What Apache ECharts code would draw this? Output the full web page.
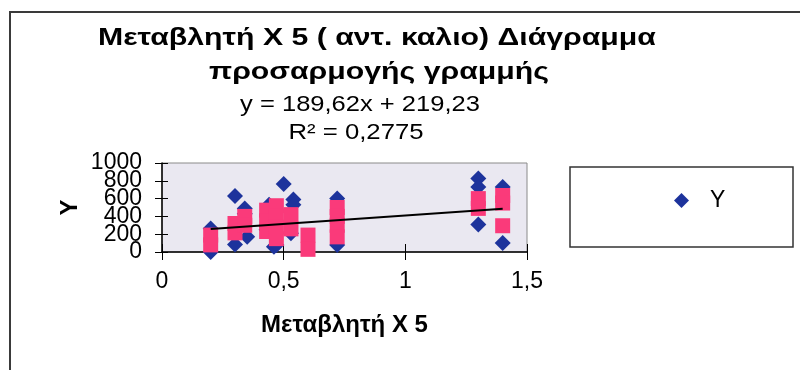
<!DOCTYPE html>
<html>
<head>
<meta charset="utf-8">
<script src="https://cdn.jsdelivr.net/npm/echarts@6/dist/echarts.min.js"></script>
<style>html,body{margin:0;padding:0;background:#fff}#c{width:800px;height:370px}</style>
</head>
<body>
<div id="c"></div>
<script>
var titleLines = ['Μεταβλητή X 5 ( αντ. καλιο) Διάγραμμα', 'προσαρμογής γραμμής'];
var equationText = 'y = 189,62x + 219,23';
var r2Text = 'R² = 0,2775';
var xAxisTitle = 'Μεταβλητή X 5';
var yAxisTitle = 'Y';
var seriesName = 'Y';
var trendSlope = 189.62;
var trendIntercept = 219.23;
var yTickLabels = ['0', '200', '400', '600', '800', '1000'];

var xBlue = [0.2, 0.2, 0.3, 0.3, 0.34, 0.34, 0.35, 0.44, 0.43, 0.46, 0.47, 0.5, 0.54, 0.54, 0.53, 0.72, 0.72, 1.3, 1.3, 1.3, 1.4, 1.4];
var yBlue = [265, 0, 630, 85, 490, 430, 170, 530, 250, 60, 80, 765, 590, 530, 210, 602, 80, 825, 731, 310, 731, 100];

var xPink = [0.2, 0.2, 0.3, 0.3, 0.34, 0.34, 0.43, 0.43, 0.43, 0.47, 0.47, 0.47, 0.47, 0.53, 0.53, 0.6, 0.6, 0.72, 0.72, 0.72, 0.72, 1.3, 1.3, 1.4, 1.4, 1.4];
var yPink = [190, 80, 320, 215, 400, 300, 470, 350, 230, 520, 400, 280, 150, 420, 260, 190, 30, 500, 400, 300, 170, 600, 490, 635, 550, 295];

var FONT = '"Liberation Sans", Arial, sans-serif';
var chart = echarts.init(document.getElementById('c'), null, {renderer: 'canvas'});

function pairs(xs, ys) { return xs.map(function (x, i) { return [x, ys[i]]; }); }
var xMinData = Math.min.apply(null, xBlue);
var xMaxData = Math.max.apply(null, xBlue);
var trendData = [[xMinData, trendSlope * xMinData + trendIntercept], [xMaxData, trendSlope * xMaxData + trendIntercept]];

function commaFmt(v) { return String(v).replace('.', ','); }
function yLabelFmt(parity) {
  return function (v) {
    var idx = Math.round(v / 200);
    return (idx % 2 === parity) ? (yTickLabels[idx] || '') : '';
  };
}

var baseX = {min: 0, max: 1.5, interval: 0.5, splitLine: {show: false}};
var baseY = {min: 0, max: 1000, interval: 200, splitLine: {show: false}};
var yLabelStyle = {fontFamily: FONT, fontSize: 23, color: '#000', margin: 20, showMinLabel: true, showMaxLabel: true, hideOverlap: false};

function stretchedText(str, x, y, font, sx) {
  return {type: 'text', x: x, y: y, scaleX: sx, scaleY: 1,
    style: {text: str, x: 0, y: 0, textAlign: 'center', textVerticalAlign: 'middle', font: font, fill: '#000'}};
}

chart.setOption({
  animation: false,
  backgroundColor: '#ffffff',
  grid: {left: 162, right: 273, top: 163, bottom: 118, show: true, backgroundColor: '#eae8f1', borderColor: '#8a8a8a', borderWidth: 1},
  graphic: [
    {type: 'rect', shape: {x: 10, y: 12, width: 800, height: 370}, style: {fill: 'none', stroke: '#3a3a3a', lineWidth: 2}, silent: true},
    {type: 'rect', shape: {x: 570, y: 167, width: 223, height: 80}, style: {fill: '#ffffff', stroke: '#333333', lineWidth: 1.5}, silent: true, z: -1},
    stretchedText(titleLines[0], 377, 38, 'bold 24px ' + FONT, 1.26),
    stretchedText(titleLines[1], 379, 72, 'bold 24px ' + FONT, 1.26),
    stretchedText(equationText, 360, 105, '22px ' + FONT, 1.16),
    stretchedText(r2Text, 356, 133, '22px ' + FONT, 1.17)
  ],
  legend: {
    data: [seriesName], left: 669, top: 184, itemWidth: 15, itemHeight: 15, icon: 'diamond',
    textStyle: {fontFamily: FONT, fontSize: 23, color: '#000', padding: [0, 0, 0, 16]}
  },
  xAxis: [
    Object.assign({type: 'value', position: 'bottom',
      name: xAxisTitle, nameLocation: 'middle', nameGap: 61,
      nameTextStyle: {fontFamily: FONT, fontSize: 24, fontWeight: 'bold', color: '#000'},
      axisLine: {show: true, onZero: false, lineStyle: {color: '#000', width: 1.5}},
      axisTick: {show: true, length: 8, lineStyle: {color: '#000'}},
      axisLabel: {fontFamily: FONT, fontSize: 23, color: '#000', margin: 18, formatter: commaFmt, showMinLabel: true, showMaxLabel: true}
    }, baseX),
    Object.assign({type: 'value', position: 'bottom',
      axisLine: {show: false}, axisTick: {show: true, inside: true, length: 8, lineStyle: {color: '#000'}},
      axisLabel: {show: false}
    }, baseX)
  ],
  yAxis: [
    Object.assign({type: 'value', position: 'left',
      name: yAxisTitle, nameLocation: 'middle', nameGap: 80, nameRotate: 90,
      nameTextStyle: {fontFamily: FONT, fontSize: 24, fontWeight: 'bold', color: '#000'},
      axisLine: {show: true, onZero: false, lineStyle: {color: '#000', width: 1.5}},
      axisTick: {show: true, length: 7, lineStyle: {color: '#000'}},
      axisLabel: Object.assign({formatter: yLabelFmt(0)}, yLabelStyle)
    }, baseY),
    Object.assign({type: 'value', position: 'left',
      axisLine: {show: false}, axisTick: {show: true, inside: true, length: 6, lineStyle: {color: '#000'}},
      axisLabel: Object.assign({formatter: yLabelFmt(1)}, yLabelStyle)
    }, baseY)
  ],
  series: [
    {name: seriesName, type: 'scatter', symbol: 'diamond', symbolSize: 16, data: pairs(xBlue, yBlue),
     itemStyle: {color: '#1d339c', opacity: 1}, z: 2, clip: false},
    {name: 'Pink', type: 'scatter', symbol: 'rect', symbolSize: 15, data: pairs(xPink, yPink),
     itemStyle: {color: '#fa3a7a', opacity: 1}, z: 3, clip: false},
    {name: 'Trend', type: 'line', data: trendData, showSymbol: false, symbol: 'none',
     lineStyle: {color: '#000', width: 2}, z: 4}
  ]
});
</script>
</body>
</html>
